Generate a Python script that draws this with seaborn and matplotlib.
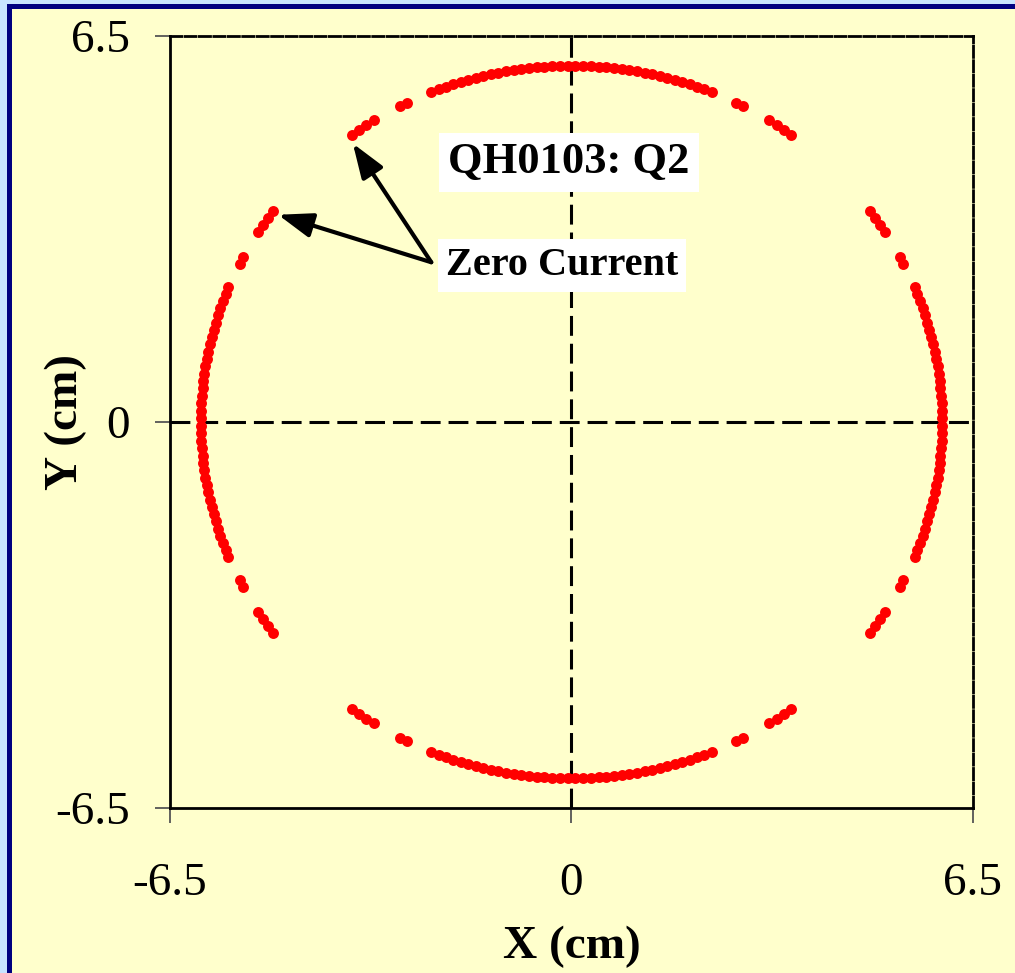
import numpy as np
import pandas as pd
import matplotlib
matplotlib.use("Agg")
import matplotlib.pyplot as plt
from matplotlib.patches import Rectangle
import seaborn as sns

# Probe positions on the measurement circle: polar angle (deg) of every point, radius in cm
radius_cm = 6.0

right_arc_deg = [-22.2, -21.0, -19.8, -18.6, -17.4, -16.2, -15.0, -13.8, -12.6, -11.4,
                 -10.2, -9.0, -7.8, -6.6, -5.4, -4.2, -3.0, -1.8, -0.6, 0.6,
                 1.8, 3.0, 4.2, 5.4, 6.6, 7.8, 9.0, 10.2, 11.4, 12.6,
                 13.8, 15.0, 16.2, 17.4, 18.6, 19.8, 21.0, 22.2]
top_arc_deg = [67.8, 69.0, 70.2, 71.4, 72.6, 73.8, 75.0, 76.2, 77.4, 78.6,
               79.8, 81.0, 82.2, 83.4, 84.6, 85.8, 87.0, 88.2, 89.4, 90.6,
               91.8, 93.0, 94.2, 95.4, 96.6, 97.8, 99.0, 100.2, 101.4, 102.6,
               103.8, 105.0, 106.2, 107.4, 108.6, 109.8, 111.0, 112.2]
left_arc_deg = [157.8, 159.0, 160.2, 161.4, 162.6, 163.8, 165.0, 166.2, 167.4, 168.6,
                169.8, 171.0, 172.2, 173.4, 174.6, 175.8, 177.0, 178.2, 179.4, 180.6,
                181.8, 183.0, 184.2, 185.4, 186.6, 187.8, 189.0, 190.2, 191.4, 192.6,
                193.8, 195.0, 196.2, 197.4, 198.6, 199.8, 201.0, 202.2]
bottom_arc_deg = [247.8, 249.0, 250.2, 251.4, 252.6, 253.8, 255.0, 256.2, 257.4, 258.6,
                  259.8, 261.0, 262.2, 263.4, 264.6, 265.8, 267.0, 268.2, 269.4, 270.6,
                  271.8, 273.0, 274.2, 275.4, 276.6, 277.8, 279.0, 280.2, 281.4, 282.6,
                  283.8, 285.0, 286.2, 287.4, 288.6, 289.8, 291.0, 292.2]
pair_deg = [26.4, 27.6, 62.4, 63.6, 116.4, 117.6, 152.4, 153.6,
            206.4, 207.6, 242.4, 243.6, 296.4, 297.6, 332.4, 333.6]
quad_deg = [32.2, 33.6, 35.0, 36.4, 53.6, 55.0, 56.4, 57.8,
            122.2, 123.6, 125.0, 126.4, 143.6, 145.0, 146.4, 147.8,
            212.2, 213.6, 215.0, 216.4, 233.6, 235.0, 236.4, 237.8,
            302.2, 303.6, 305.0, 306.4, 323.6, 325.0, 326.4, 327.8]

axis_ticks = [-6.5, 0, 6.5]
axis_tick_labels = ["-6.5", "0", "6.5"]

title_text = "QH0103: Q2"
note_text = "Zero Current"
note_targets = [(-3.54, 4.69), (-4.75, 3.49)]

BG = "#FFFFCC"
NAVY = "#000080"
PALE_BLUE = "#C8E4FF"

theta = np.deg2rad(np.concatenate([right_arc_deg, top_arc_deg, left_arc_deg,
                                   bottom_arc_deg, pair_deg, quad_deg]))
points = pd.DataFrame({"x": radius_cm * np.cos(theta), "y": radius_cm * np.sin(theta)})

sns.set_theme(style="white")
plt.rcParams["font.family"] = ["Liberation Serif", "DejaVu Serif"]
plt.rcParams["text.color"] = "black"
plt.rcParams["axes.labelcolor"] = "black"

fig = plt.figure(figsize=(10.15, 9.73), dpi=100, facecolor=BG)

# slide frame: pale strip and navy rule along the top and left edges
fig.add_artist(Rectangle((0, 1 - 4 / 973), 1, 4 / 973, transform=fig.transFigure,
                         facecolor=PALE_BLUE, edgecolor="none", zorder=0))
fig.add_artist(Rectangle((0, 0), 7 / 1015, 1, transform=fig.transFigure,
                         facecolor=PALE_BLUE, edgecolor="none", zorder=0))
fig.add_artist(Rectangle((7 / 1015, 1 - 9 / 973), 1, 5 / 973, transform=fig.transFigure,
                         facecolor=NAVY, edgecolor="none", zorder=0))
fig.add_artist(Rectangle((7 / 1015, 0), 5 / 1015, 1 - 4 / 973, transform=fig.transFigure,
                         facecolor=NAVY, edgecolor="none", zorder=0))

ax = fig.add_axes([0.1675, 0.1696, 0.7911, 0.7934])
ax.set_facecolor(BG)

ax.axhline(0, color="black", lw=2.2, dashes=(6.5, 2.6), zorder=1)
ax.axvline(0, color="black", lw=2.2, dashes=(6.5, 2.6), zorder=1)

sns.scatterplot(data=points, x="x", y="y", color="#FF0000", s=62, linewidth=0,
                ax=ax, zorder=3, legend=False)

ax.set_xlim(-6.5, 6.5)
ax.set_ylim(-6.5, 6.5)
ax.set_xticks(axis_ticks)
ax.set_xticklabels(axis_tick_labels)
ax.set_yticks(axis_ticks)
ax.set_yticklabels(axis_tick_labels)
ax.tick_params(axis="both", direction="out", length=11, width=1.3, color="#555555",
               labelsize=34, labelcolor="black")
ax.tick_params(axis="x", pad=28, bottom=True)
ax.tick_params(axis="y", pad=18, left=True)

for side in ["left", "bottom"]:
    ax.spines[side].set_color("black")
    ax.spines[side].set_linewidth(2.0)
for side in ["top", "right"]:
    ax.spines[side].set_color("black")
    ax.spines[side].set_linewidth(2.0)
    ax.spines[side].set_linestyle((0, (4, 1.2)))

ax.set_xlabel("X (cm)", fontsize=34, fontweight="bold", color="black")
ax.set_ylabel("Y (cm)", fontsize=34, fontweight="bold", color="black")
ax.xaxis.set_label_coords(0.5, -0.153)
ax.yaxis.set_label_coords(-0.103, 0.5)

ax.text(-0.04, 4.37, title_text, ha="center", va="center", fontsize=32,
        fontweight="bold", color="black", zorder=6,
        bbox=dict(boxstyle="square,pad=0.22", facecolor="white", edgecolor="none"))

for tx, ty in note_targets:
    ax.annotate("", xy=(tx, ty), xytext=(-2.27, 2.69), zorder=5,
                arrowprops=dict(arrowstyle="-|>,head_length=1.4,head_width=0.5",
                                mutation_scale=15, lw=3, color="black",
                                shrinkA=0, shrinkB=0))

ax.text(-0.15, 2.64, note_text, ha="center", va="center", fontsize=29,
        fontweight="bold", color="black", zorder=6,
        bbox=dict(boxstyle="square,pad=0.2", facecolor="white", edgecolor="none"))

fig.savefig("out.png", dpi=100, facecolor=BG)
